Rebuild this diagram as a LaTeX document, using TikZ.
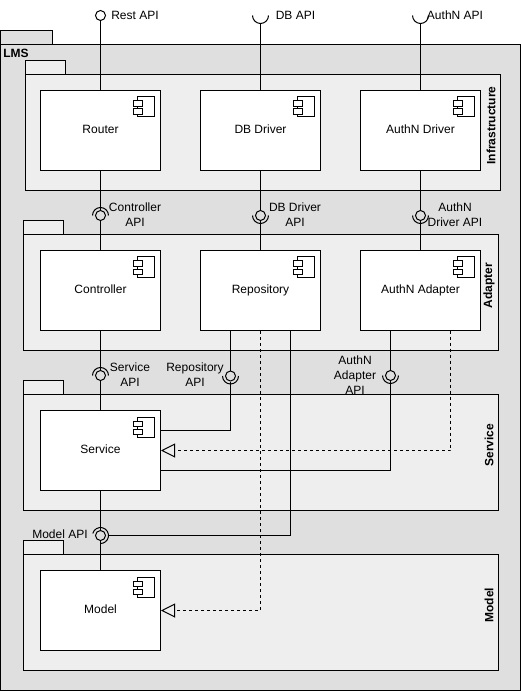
\documentclass[tikz,border=0pt]{standalone}
\usepackage{fontspec}
\setmainfont{Liberation Sans}
\usetikzlibrary{arrows.meta}
\def\u{0.75pt}
\colorlet{lmsbg}{black!12.5}
\colorlet{pkgbg}{black!6.5}
\tikzset{
    every node/.style={font=\fontsize{9}{11.25}\selectfont,inner sep=0pt},
    wire/.style={black,line width=\u},
    comp/.style={draw,wire,fill=white,minimum width=120*\u,minimum height=80*\u,text height=6.5pt,text depth=2pt},
    pkgbody/.style={draw,wire,fill=pkgbg,anchor=north west,outer sep=0pt},
    pkgtab/.style={draw,wire,fill=pkgbg,anchor=north west,outer sep=0pt,minimum height=14*\u},
    pkgname/.style={font=\fontsize{9}{11.25}\selectfont\bfseries,rotate=90},
    iface/.style={draw,wire,circle,minimum size=10*\u},
    tag/.style={align=center},
    realize/.style={wire,dashed,dash pattern=on 3*\u off 3*\u,-{Triangle[open,length=14*\u,width=14*\u]}}
}
\begin{document}
\begin{tikzpicture}[x=\u,y=-\u]
    \useasboundingbox (0,0) rectangle (521,691);
    % outer package
    \node [pkgtab,fill=lmsbg,minimum width=52*\u] (lmstab) at (0.5,30.5) {};
    \node [pkgbody,fill=lmsbg,minimum width=520*\u,minimum height=646*\u] (lms) at (0.5,44.5) {};
    \node [anchor=west,font=\fontsize{9}{11.25}\selectfont\bfseries] (lmsname) at (3,53.5) {LMS};
    % labels that sit under the packages
    \node [tag] (adptapitxt) at (355,375) {AuthN\\Adapter\\API};
    % inner packages
    \node [pkgtab,minimum width=40*\u] (infratab) at (25.5,60.5) {};
    \node [pkgbody,minimum width=475*\u,minimum height=116*\u] (infra) at (25.5,74.5) {};
    \node [pkgtab,minimum width=40*\u] (adaptertab) at (23,220.5) {};
    \node [pkgbody,minimum width=475*\u,minimum height=116*\u] (adapter) at (23,234.5) {};
    \node [pkgtab,minimum width=40*\u] (servicetab) at (23,380.5) {};
    \node [pkgbody,minimum width=475*\u,minimum height=116*\u] (servicepkg) at (23,394.5) {};
    \node [pkgtab,minimum width=40*\u] (modeltab) at (23,540.5) {};
    \node [pkgbody,minimum width=475*\u,minimum height=116*\u] (modelpkg) at (23,554.5) {};
    \node [pkgname] (infraname) at (491,125.5) {Infrastructure};
    \node [pkgname] (adaptername) at (489,285.5) {Adapter};
    \node [pkgname] (servicename) at (489,445) {Service};
    \node [pkgname] (modelname) at (489,605) {Model};
    % components
    \node [comp] (router) at (100.5,130.5) {Router};
    \node [comp] (dbdriver) at (260.5,130.5) {DB Driver};
    \node [comp] (authdriver) at (420.5,130.5) {AuthN Driver};
    \node [comp] (controller) at (100.5,290.5) {Controller};
    \node [comp] (repository) at (260.5,290.5) {Repository};
    \node [comp] (authadapter) at (420.5,290.5) {AuthN Adapter};
    \node [comp] (service) at (100.5,450.5) {Service};
    \node [comp] (model) at (100.5,610.5) {Model};
    \foreach \c in {router,dbdriver,authdriver,controller,repository,authadapter,service,model} {
        \begin{scope}[shift={(\c.north east)},wire]
            \draw (-23.5,7) rectangle (-7,27);
            \draw [fill=white] (-27.5,11) rectangle (-19,16.5);
            \draw [fill=white] (-27.5,19) rectangle (-19,24.5);
        \end{scope}
    }
    % interfaces
    \node [iface] (restapi) at (100.5,15.5) {};
    \coordinate (dbapi) at (260.5,15.5);
    \coordinate (authapi) at (420.5,15.5);
    \node [iface] (ctrlapi) at (100.5,215.5) {};
    \node [iface] (dbdrvapi) at (260.5,215.5) {};
    \node [iface] (authdrvapi) at (420.5,215.5) {};
    \node [iface] (svcapi) at (100.5,375.5) {};
    \node [iface] (repoapi) at (230.5,376) {};
    \node [iface] (adptapi) at (390.5,375.5) {};
    \node [iface] (modelapi) at (100.5,535.5) {};
    \foreach \n in {ctrlapi,svcapi} {
        \draw [wire] ([shift={(180:6pt)}]\n.center) arc [start angle=180,end angle=0,radius=6pt];
    }
    \foreach \n in {dbapi,authapi,dbdrvapi,authdrvapi,repoapi,adptapi} {
        \draw [wire] ([shift={(180:6pt)}]\n) arc [start angle=180,end angle=360,radius=6pt];
    }
    \draw [wire] ([shift={(165:6pt)}]modelapi.center) arc [start angle=165,end angle=-90,radius=6pt];
    % free ends
    \coordinate (dbcup) at (260.5,23.5);
    \coordinate (authcup) at (420.5,23.5);
    \coordinate (repoleft) at (230.5,330.5);
    \coordinate (reporight) at (290.5,330.5);
    \coordinate (adptleft) at (390.5,330.5);
    \coordinate (adptright) at (450.5,330.5);
    \coordinate (svcupper) at (160.5,430.5);
    \coordinate (svclower) at (160.5,470.5);
    \coordinate (modelsock) at (108.5,535.5);
    % connectors
    \draw [wire] (restapi) -- (router);
    \draw [wire] (dbcup) -- (dbdriver);
    \draw [wire] (authcup) -- (authdriver);
    \draw [wire] (router) -- (ctrlapi);
    \draw [wire] (dbdriver) -- (dbdrvapi);
    \draw [wire] (authdriver) -- (authdrvapi);
    \draw [wire] (ctrlapi) -- (controller);
    \draw [wire] (dbdrvapi) -- (repository);
    \draw [wire] (authdrvapi) -- (authadapter);
    \draw [wire] (controller) -- (svcapi);
    \draw [wire] (svcapi) -- (service);
    \draw [wire] (service) -- (modelapi);
    \draw [wire] (modelapi) -- (model);
    \draw [wire] (repoleft) -- (repoapi);
    \draw [wire] (repoapi) |- (svcupper);
    \draw [wire] (adptleft) -- (adptapi);
    \draw [wire] (adptapi) |- (svclower);
    \draw [wire] (reporight) |- (modelsock);
    \draw [realize] (adptright) |- (service);
    \draw [realize] (repository) |- (model);
    % labels
    \node [tag] (resttxt) at (135,15) {Rest API};
    \node [tag] (dbtxt) at (295.5,15) {DB API};
    \node [tag] (authtxt) at (455,15) {AuthN API};
    \node [tag] (ctrltxt) at (135,215) {Controller\\API};
    \node [tag] (dbdrvtxt) at (295,215) {DB Driver\\API};
    \node [tag] (authdrvtxt) at (455,215) {AuthN\\Driver API};
    \node [tag] (svctxt) at (130,375) {Service\\API};
    \node [tag] (repotxt) at (195,375) {Repository\\API};
    \node [tag] (modeltxt) at (60,534.5) {Model API};
\end{tikzpicture}
\end{document}
